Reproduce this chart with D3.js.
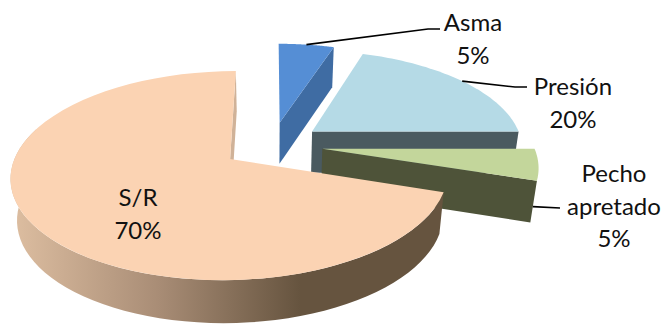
<!DOCTYPE html>
<html>
<head>
<meta charset="utf-8">
<style>
  html, body { margin: 0; padding: 0; background: #fff; overflow: hidden; }
  text { font-family: Lato, "Open Sans", sans-serif; font-size: 24px; fill: #111; text-anchor: middle; }
</style>
<script src="https://cdn.jsdelivr.net/npm/d3@7"></script>
</head>
<body>
<div id="chart"></div>
<script>
var categories = ["Asma", "Presión", "Pecho apretado", "S/R"];
var values = [5, 20, 5, 70];
var topColors = ["#558ed5", "#b5dae6", "#c3d69b", "#fbd3b3"];
var wallColors = ["#3f6ca3", "#4a5a60", "#4e5339", "#d0b298"];

var width = 667, height = 324;

// tilted disc: plane coords -> screen, far side shrinks
var cx = 272, cy = 145, ax = 211, ay = 97.5, persp = 0.155, explode = 0.24;

var svg = d3.select("#chart").append("svg")
    .attr("width", width)
    .attr("height", height)
    .style("display", "block");

var grad = svg.append("defs").append("linearGradient")
    .attr("id", "rimGrad")
    .attr("gradientUnits", "userSpaceOnUse")
    .attr("x1", 15).attr("x2", 300).attr("y1", 0).attr("y2", 0);
grad.append("stop").attr("offset", "0%").attr("stop-color", "#dcbda0");
grad.append("stop").attr("offset", "50%").attr("stop-color", "#a98d76");
grad.append("stop").attr("offset", "100%").attr("stop-color", "#66543f");

var slices = d3.pie().sort(null)(values);

// bottom rim of the disc sits a bit lower and narrower
var rimY = d3.scaleLinear().domain([46, 280]).range([86, 323]);
var rimX = d3.scaleLinear().domain([cx - 100, cx + 100]).range([cx - 97.5, cx + 97.5]);

function project(d, angle, r) {
    var mid = (d.startAngle + d.endAngle) / 2;
    var u = explode * Math.sin(mid) + r * Math.sin(angle);
    var v = explode * Math.cos(mid) + r * Math.cos(angle);
    var w = 1 + persp * v;
    return [cx + ax * u / w, cy - ay * v / w];
}

function lower(p) {
    return [rimX(p[0]), rimY(p[1])];
}

var line = d3.line();

function arcPoints(d, a0, a1) {
    var n = 60, pts = [];
    for (var i = 0; i <= n; i++) {
        pts.push(project(d, a0 + (a1 - a0) * i / n, 1));
    }
    return pts;
}

function drawTop(d, i) {
    var pts = [project(d, 0, 0)].concat(arcPoints(d, d.startAngle, d.endAngle));
    svg.append("path")
        .attr("d", line(pts) + "Z")
        .attr("fill", topColors[i]);
}

// flat cut face along one radius
function drawCut(d, angle, color) {
    var a = project(d, 0, 0), b = project(d, angle, 1);
    svg.append("path")
        .attr("d", line([a, b, lower(b), lower(a)]) + "Z")
        .attr("fill", color);
}

// back to front: Presión, Asma, Pecho, S/R
drawCut(slices[1], slices[1].endAngle, wallColors[1]);
drawTop(slices[1], 1);

drawCut(slices[0], slices[0].endAngle, wallColors[0]);
drawTop(slices[0], 0);

drawCut(slices[2], slices[2].endAngle, wallColors[2]);
drawTop(slices[2], 2);

var sr = slices[3];
drawCut(sr, sr.endAngle, wallColors[3]);
var rimTop = arcPoints(sr, sr.startAngle, 1.6 * Math.PI);
var rimBottom = rimTop.map(lower).reverse();
svg.append("path")
    .attr("d", line(rimTop.concat(rimBottom)) + "Z")
    .attr("fill", "url(#rimGrad)");
drawTop(sr, 3);

// leader lines
function midOf(d) { return (d.startAngle + d.endAngle) / 2; }

var cut = project(slices[2], slices[2].endAngle, 1);
var cutLow = lower(cut);
var leaders = [
    [project(slices[0], midOf(slices[0]), 1), [428, 29], [440, 29]],
    [project(slices[1], midOf(slices[1]), 1), [515, 87], [527, 87]],
    [[cut[0] + (cutLow[0] - cut[0]) * 0.62, cut[1] + (cutLow[1] - cut[1]) * 0.62], [560, 208]]
];
leaders.forEach(function(pts) {
    svg.append("path")
        .attr("d", line(pts))
        .attr("fill", "none")
        .attr("stroke", "#000")
        .attr("stroke-width", 1.6);
});

// labels
var labelLines = [["Asma", "5%"], ["Presión", "20%"], ["Pecho", "apretado", "5%"], ["S/R", "70%"]];
var labelX = [473, 573, 614, 138];
var labelY = [31, 95, 182, 206];
var labelStep = 32.5;

labelLines.forEach(function(rows, i) {
    rows.forEach(function(txt, j) {
        svg.append("text")
            .attr("x", labelX[i])
            .attr("y", labelY[i] + j * labelStep)
            .text(txt);
    });
});
</script>
</body>
</html>
